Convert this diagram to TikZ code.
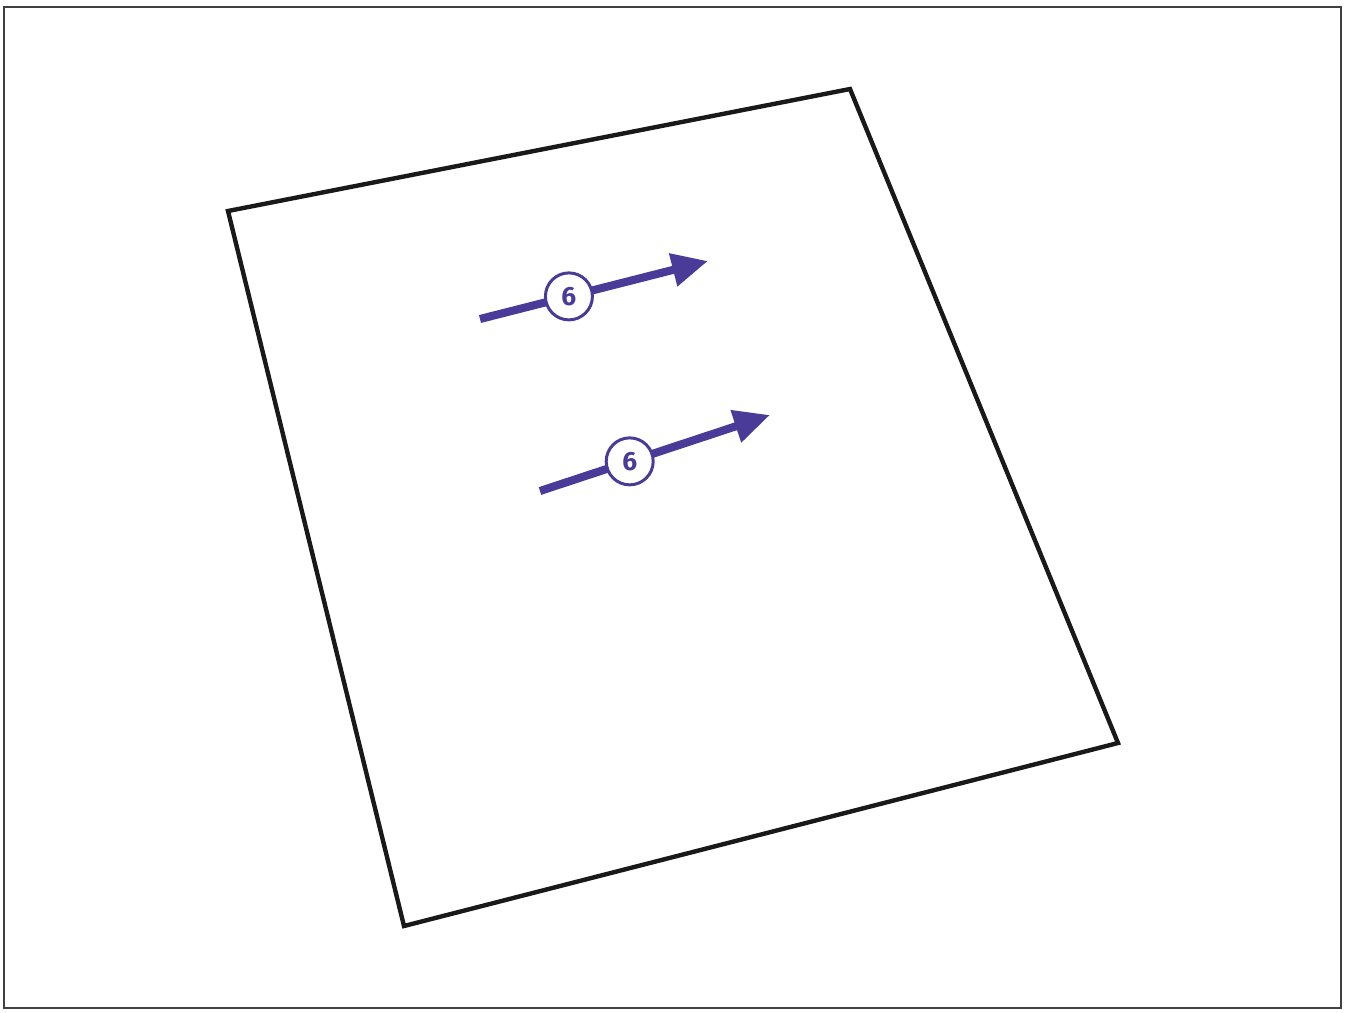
\documentclass[tikz,border=0pt]{standalone}
\usepackage{fontspec}
\setsansfont{Fira Sans}
\usetikzlibrary{arrows.meta}
\definecolor{vectorblue}{HTML}{4A3B98}
\begin{document}
\begin{tikzpicture}[x=0.02cm,y=-0.02cm]
        \tikzset{sheet edge/.style={draw=black!90, line width=2.5pt, line join=miter},
                 vector/.style={draw=vectorblue, line width=4.6pt,
                     -{Triangle[length=0.72cm,width=0.64cm]}},
                 badge/.style={circle, draw=vectorblue, fill=white, line width=1.7pt,
                     inner sep=0pt, minimum size=0.94cm, text=vectorblue,
                     font=\sffamily\bfseries\fontsize{15}{15}\selectfont}}

        \useasboundingbox (0,0) rectangle (1346,1012);
        \draw[black!75, line width=1.4pt] (4,7) rectangle (1341,1008);

        \draw[sheet edge]
            (228,211) -- (850,89) -- (1118,743) -- (404,926) -- cycle;

        \coordinate (s1) at (480,319);
        \coordinate (e1) at (708,261);
        \coordinate (s2) at (540,491);
        \coordinate (e2) at (770,415);

        \draw[vector] (s1) -- node[badge, pos=0.39] (b1) {6} (e1);
        \draw[vector] (s2) -- node[badge, pos=0.39] (b2) {6} (e2);
    \end{tikzpicture}
\end{document}
